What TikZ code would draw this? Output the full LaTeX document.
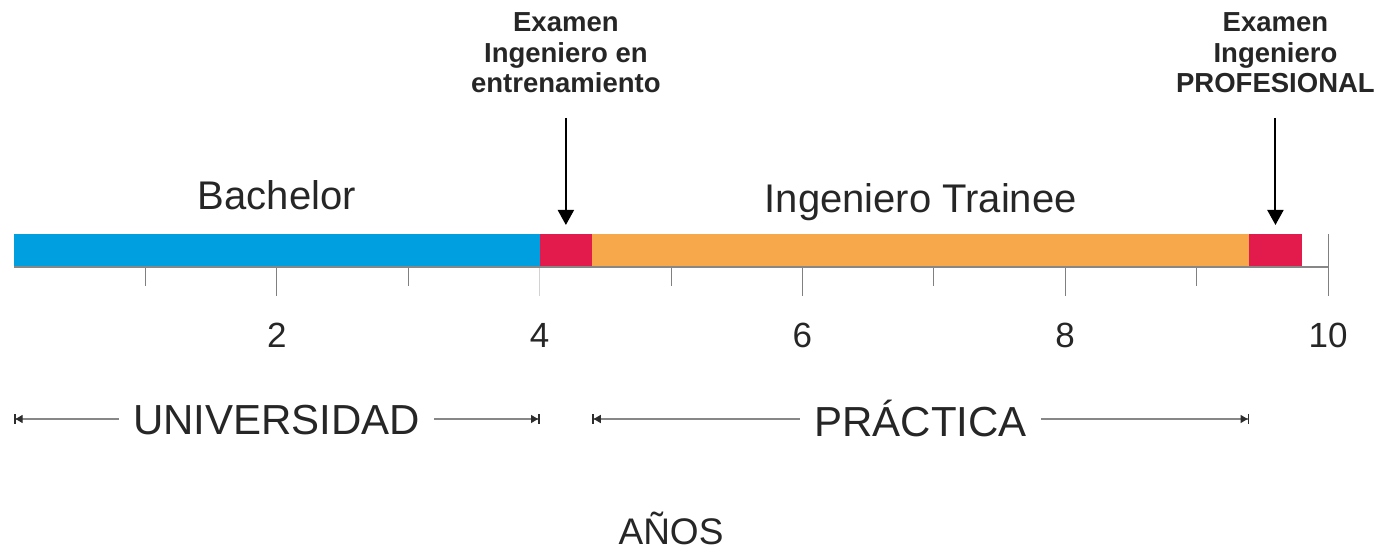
\documentclass[tikz,border=0pt]{standalone}
\usepackage{fontspec}
\setmainfont{Liberation Sans}
\usetikzlibrary{arrows.meta}
\definecolor{barblue}{RGB}{0,159,223}
\definecolor{barred}{RGB}{227,27,76}
\definecolor{barorange}{RGB}{247,168,74}
\definecolor{inkgray}{RGB}{38,38,38}
\definecolor{axisgray}{RGB}{135,135,135}
\definecolor{tipgray}{RGB}{45,45,45}

\begin{document}
\begin{tikzpicture}[x=131.4pt,y=1pt,
  phasetext/.style={text=inkgray,inner sep=0pt,anchor=base,font=\fontsize{40}{48}\selectfont},
  yeartext/.style={text=inkgray,inner sep=0pt,anchor=base,font=\fontsize{35}{42}\selectfont},
  spantext/.style={text=inkgray,fill=white,inner xsep=14pt,inner ysep=6pt,anchor=base,font=\fontsize{42}{50}\selectfont},
  examtext/.style={text=inkgray,inner sep=0pt,anchor=south,align=center,font=\fontsize{27.5}{30.5}\selectfont\bfseries},
  tickmark/.style={draw=gray,line width=1pt},
  pointer/.style={draw=black,line width=2pt,shorten <=25pt,-{Triangle[length=15pt,width=16pt]}},
  dimline/.style={draw=axisgray,line width=1.2pt,
    arrows={{Bar[width=10pt,line width=1.6pt,color=tipgray]Triangle[length=7pt,width=8pt,color=tipgray]}-{Triangle[length=7pt,width=8pt,color=tipgray]Bar[width=10pt,line width=1.6pt,color=tipgray]}}}
]
\useasboundingbox (-14pt,-286) rectangle (1369pt,267);
% the four stages
\fill[barblue] (0,1) rectangle (4,33);
\fill[barred] (4,1) rectangle (4.4,33);
\fill[barorange] (4.4,1) rectangle (9.4,33);
\fill[barred] (9.4,1) rectangle (9.8,33);
% years
\foreach \i in {1,3,5,7,9}
  \draw[tickmark] (\i,0) -- (\i,-19);
\foreach \i in {2,6,8}
  \draw[tickmark] (\i,0) -- (\i,-29);
\draw[tickmark,draw=gray!35] (4,0) -- (4,-29);
\draw[tickmark] (10,33) -- (10,-29);
\draw[axisgray,line width=2pt] (0,0) -- (10,0);
\foreach \i in {2,4,...,10}
  \node[yeartext] (year\i) at (\i,-81) {\i};

\node[phasetext] (bachelor) at (2,57) {Bachelor};
\node[phasetext] (trainee) at (6.9,54) {Ingeniero Trainee};

% exams
\node[examtext] (exam1) at (4.2,174) {Examen\\Ingeniero en\\entrenamiento};
\node[examtext] (exam2) at (9.6,174) {Examen\\Ingeniero\\PROFESIONAL};
\coordinate (hit1) at (4.2,42);
\coordinate (hit2) at (9.6,42);
\draw[pointer] (exam1) -- (hit1);
\draw[pointer] (exam2) -- (hit2);

% spans
\coordinate (uniL) at (0,-152);
\coordinate (uniR) at (4,-152);
\coordinate (pracL) at (4.4,-152);
\coordinate (pracR) at (9.4,-152);
\draw[dimline] (uniL) -- (uniR);
\draw[dimline] (pracL) -- (pracR);
\node[spantext] (uni) at (2,-168) {UNIVERSIDAD};
\node[spantext] (prac) at (6.9,-170) {PRÁCTICA};

\node[yeartext,font=\fontsize{37}{44}\selectfont] (anos) at (5,-277) {AÑOS};
\end{tikzpicture}
\end{document}
